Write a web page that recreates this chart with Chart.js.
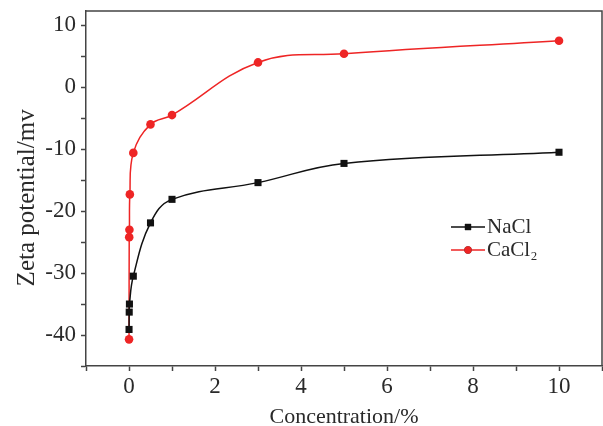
<!DOCTYPE html>
<html lang="en">
<head>
    <meta charset="UTF-8">
    <title>Zeta potential vs concentration</title>
    <script src="https://cdn.jsdelivr.net/npm/chart.js"></script>
    <style>
        body {
            margin: 0;
            background: white;
            overflow: hidden;
        }
        /* a few px wider than the window: Chart.js keeps ~4px spare at the right */
        #wrap {
            width: 607px;
            height: 426px;
        }
    </style>
</head>
<body>
    <div id="wrap"><canvas id="zetaChart"></canvas></div>

    <script>
        // concentration (%) and zeta potential (mV)
        const naclConc = [0.001, 0.005, 0.01, 0.1, 0.5, 1, 3, 5, 10];
        const naclZeta = [-39.1, -36.3, -35.0, -30.5, -21.9, -18.1, -15.4, -12.3, -10.5];

        const caclConc = [0.001, 0.005, 0.01, 0.02, 0.1, 0.5, 1, 3, 5, 10];
        const caclZeta = [-40.7, -24.2, -23.0, -17.3, -10.6, -6.0, -4.5, 4.0, 5.4, 7.5];

        const seriesLabels = ['NaCl', 'CaCl\u2082'];
        const xTickLabels = [0, 2, 4, 6, 8, 10];
        const yTickLabels = [-40, -30, -20, -10, 0, 10];

        const serif = "'Liberation Serif', 'Times New Roman', serif";
        const inkColor = '#2a2a2a';

        function toPoints(xs, ys) {
            return xs.map((x, i) => ({ x: x, y: ys[i] }));
        }

        // closes the frame on the top and right side
        const framePlugin = {
            id: 'frame',
            afterDraw(chart) {
                const { ctx, chartArea: a } = chart;
                ctx.save();
                ctx.strokeStyle = '#444';
                ctx.lineWidth = 1.5;
                ctx.beginPath();
                ctx.moveTo(a.left, a.top);
                ctx.lineTo(a.right, a.top);
                ctx.lineTo(a.right, a.bottom);
                ctx.stroke();
                ctx.restore();
            }
        };

        // legend drawn inside the plot area
        const innerLegend = {
            id: 'innerLegend',
            afterDraw(chart) {
                const { ctx, chartArea: a } = chart;
                const x0 = a.right - 151;
                let y = a.top + 216;
                ctx.save();
                chart.data.datasets.forEach(ds => {
                    ctx.strokeStyle = ds.borderColor;
                    ctx.lineWidth = 1.5;
                    ctx.beginPath();
                    ctx.moveTo(x0, y);
                    ctx.lineTo(x0 + 34, y);
                    ctx.stroke();
                    Chart.helpers.drawPoint(ctx, {
                        pointStyle: ds.pointStyle,
                        radius: ds.pointRadius - 0.6,
                        borderWidth: 0
                    }, x0 + 17, y);
                    ctx.fillStyle = ds.borderColor;
                    ctx.fill();
                    ctx.fillStyle = inkColor;
                    ctx.font = '21px ' + serif;
                    ctx.textBaseline = 'middle';
                    ctx.fillText(ds.label, x0 + 36, y);
                    y += 23;
                });
                ctx.restore();
            }
        };

        const ctx = document.getElementById('zetaChart').getContext('2d');
        new Chart(ctx, {
            type: 'scatter',
            data: {
                datasets: [{
                    label: seriesLabels[0],
                    data: toPoints(naclConc, naclZeta),
                    showLine: true,
                    tension: 0.4,
                    borderColor: '#111111',
                    backgroundColor: '#111111',
                    borderWidth: 1.5,
                    pointStyle: 'rect',
                    pointRadius: 5,
                    pointBorderWidth: 0
                }, {
                    label: seriesLabels[1],
                    data: toPoints(caclConc, caclZeta),
                    showLine: true,
                    tension: 0.4,
                    borderColor: '#ee2525',
                    backgroundColor: '#ee2525',
                    borderWidth: 1.5,
                    pointStyle: 'circle',
                    pointRadius: 4.3,
                    pointBorderWidth: 0
                }]
            },
            options: {
                responsive: true,
                maintainAspectRatio: false,
                animation: false,
                layout: {
                    padding: { top: 11, right: 1, bottom: 0, left: 0 }
                },
                plugins: {
                    legend: { display: false },
                    tooltip: { enabled: false }
                },
                scales: {
                    x: {
                        type: 'linear',
                        min: -1,
                        max: 11,
                        afterFit: s => {
                            s.height = 60;
                            s.paddingLeft = 0;
                            s.paddingRight = 0;
                        },
                        border: { color: '#444', width: 1.5 },
                        grid: {
                            drawOnChartArea: false,
                            tickLength: 5,
                            tickColor: '#444',
                            tickWidth: 1.5
                        },
                        ticks: {
                            stepSize: 1,
                            autoSkip: false,
                            maxRotation: 0,
                            padding: 2,
                            color: inkColor,
                            font: { family: serif, size: 23 },
                            callback: v => xTickLabels.includes(v) ? v : ''
                        },
                        title: {
                            display: true,
                            text: 'Concentration/%',
                            color: inkColor,
                            font: { family: serif, size: 22, lineHeight: 1 },
                            padding: { top: 0, bottom: -2 }
                        }
                    },
                    y: {
                        min: -45,
                        max: 12.3,
                        afterFit: s => {
                            s.width = 86;
                            s.paddingTop = 0;
                            s.paddingBottom = 0;
                        },
                        border: { color: '#444', width: 1.5 },
                        grid: {
                            drawOnChartArea: false,
                            tickLength: 5,
                            tickColor: '#444',
                            tickWidth: 1.5
                        },
                        ticks: {
                            stepSize: 5,
                            includeBounds: false,
                            autoSkip: false,
                            padding: 5,
                            color: inkColor,
                            font: { family: serif, size: 23 },
                            callback: v => yTickLabels.includes(v) ? v : ''
                        },
                        title: {
                            display: true,
                            text: 'Zeta potential/mv   ',
                            color: inkColor,
                            font: { family: serif, size: 25, lineHeight: 1 },
                            padding: { top: 15, bottom: 0 }
                        }
                    }
                }
            },
            plugins: [framePlugin, innerLegend]
        });
    </script>
</body>
</html>
